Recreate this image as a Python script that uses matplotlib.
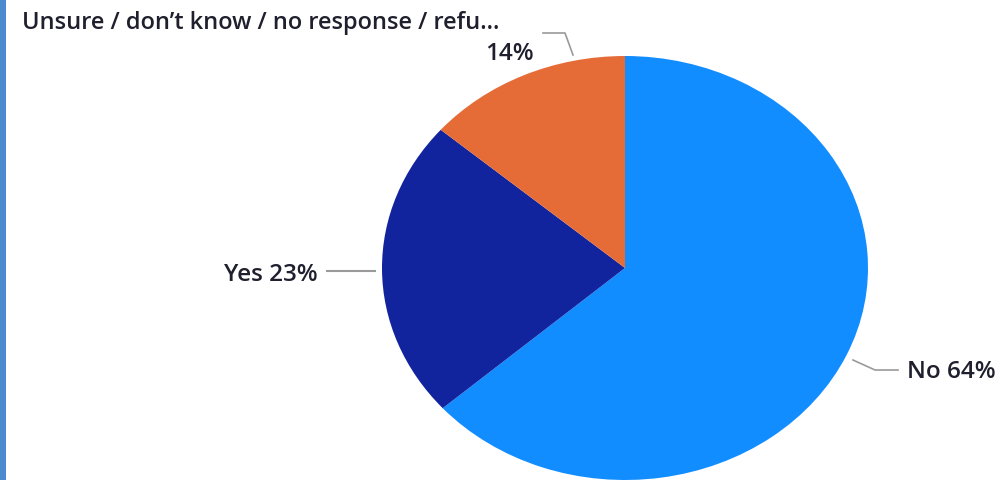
import matplotlib
matplotlib.use("Agg")
import matplotlib.pyplot as plt
from matplotlib.patches import Rectangle

categories = ["No", "Yes", "Unsure / don\u2019t know / no response / refu..."]
values = [63.5, 22.8, 13.7]
pct_labels = ["64%", "23%", "14%"]
colors = ["#118DFF", "#12239E", "#E66C37"]

W, H = 1007, 481
fig = plt.figure(figsize=(W / 100, H / 100), dpi=100)
fig.patch.set_facecolor("white")

# pie axes, elliptical (stretched)
px0, px1, py0, py1 = 382, 868, 57, 481
pax = fig.add_axes([px0 / W, (H - py1) / H, (px1 - px0) / W, (py1 - py0) / H])
pax.pie(values, colors=colors, startangle=90, counterclock=False, radius=1,
        wedgeprops=dict(linewidth=0))
pax.set_aspect("auto")
pax.set_xlim(-1, 1)
pax.set_ylim(-1, 1)
pax.axis("off")

# overlay axes in pixel coordinates
ax = fig.add_axes([0, 0, 1, 1], zorder=5)
ax.set_xlim(0, W)
ax.set_ylim(H, 0)
ax.axis("off")
ax.patch.set_alpha(0)

font = ["Open Sans", "DejaVu Sans"]
tc = "#1f1f2e"
lc = "#9a9a9a"
fw = "semibold"

# left border
ax.add_patch(Rectangle((0, 0), 6, H, color="#4A8BD0", lw=0))

# Unsure label
ax.text(22, 23, categories[2], fontsize=17, color=tc, family=font, weight=fw,
        va="center", ha="left")
ax.text(534, 54, pct_labels[2], fontsize=17.5, color=tc, family=font, weight=fw,
        va="center", ha="right")
ax.plot([543, 565, 573], [34, 34, 56], color=lc, lw=1.2)

# Yes label
ax.text(318, 275, f"{categories[1]} {pct_labels[1]}", fontsize=17.5, color=tc, family=font,
        weight=fw, va="center", ha="right")
ax.plot([327, 375], [272, 272], color=lc, lw=1.5)

# No label
ax.text(907, 372, f"{categories[0]} {pct_labels[0]}", fontsize=17.5, color=tc, family=font,
        weight=fw, va="center", ha="left")
ax.plot([853, 875, 898], [361, 371, 371], color=lc, lw=1.2)

fig.savefig("out.png", dpi=100, facecolor="white")
